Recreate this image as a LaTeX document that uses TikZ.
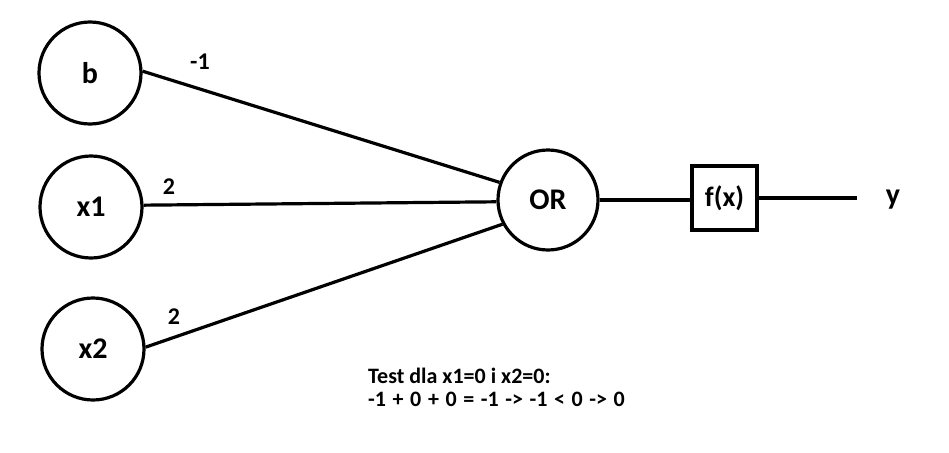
\documentclass[tikz,border=0pt]{standalone}
\usepackage{fontspec}
\setmainfont{Carlito}
\begin{document}
\begin{tikzpicture}[x=1pt,y=-1pt,
  neuron/.style={circle,draw,line width=3.2pt,minimum size=102pt,inner sep=0pt,font=\fontsize{30}{34}\selectfont\bfseries},
  fbox/.style={rectangle,draw,line width=3.2pt,minimum width=65pt,minimum height=64pt,inner sep=0pt,font=\fontsize{28}{32}\selectfont\bfseries},
  wire/.style={line width=3.2pt},
  wlabel/.style={font=\fontsize{24}{28}\selectfont\bfseries,inner sep=0pt},
  note/.style={font=\fontsize{22}{26}\selectfont\bfseries,inner sep=0pt,anchor=base west}]
\useasboundingbox[fill=white] (0,0) rectangle (949,452);
\node[neuron] (b) at (90,73) {b};
\node[neuron] (x1) at (91,207) {x1};
\node[neuron] (x2) at (93,349) {x2};
\node[neuron,minimum size=100pt] (OR) at (548,200) {OR};
\node[fbox] (f) at (724.5,198) {f(x)};
\coordinate (yend) at (857,198);
\node[font=\fontsize{30}{34}\selectfont\bfseries,inner sep=0pt] (y) at (893,200) {y};
\draw[wire] (b.2) -- (OR.160);
\draw[wire] (x1.2) -- (OR.182);
\draw[wire] (x2.2) -- (OR.208);
\draw[wire] (OR.east) -- (OR.east -| f.west);
\draw[wire] (f.east) -- (yend);
\node[wlabel] (lb) at (200,62) {-1};
\node[wlabel] (l1) at (169,187) {2};
\node[wlabel] (l2) at (174,317) {2};
\node[note] (t1) at (368,383) {Test dla x1=0 i x2=0:};
\node[note] (t2) at (368,406) {\spaceskip=6.6pt -1 + 0 + 0 = -1 -> -1 < 0 -> 0};
\end{tikzpicture}
\end{document}
